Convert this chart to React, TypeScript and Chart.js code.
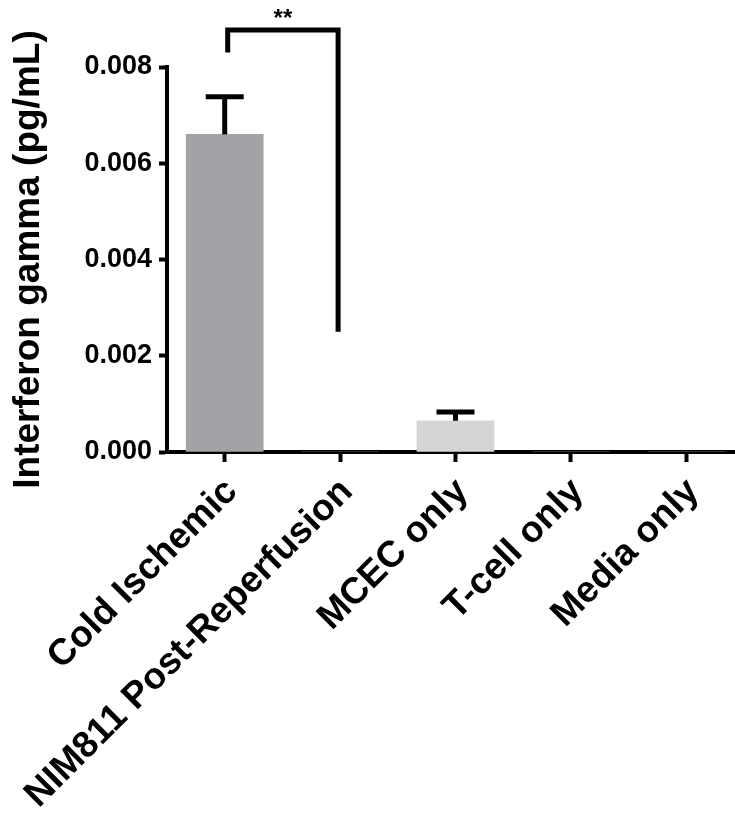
import React, { useEffect, useRef } from "react";
import { Chart, registerables } from "chart.js";

Chart.register(...registerables);

const categories = [
  "Cold Ischemic",
  "NIM811 Post-Reperfusion",
  "MCEC only",
  "T-cell only",
  "Media only",
];
const means = [0.0066, 0, 0.00065, 0, 0];
const errorsUp = [0.00078, 0, 0.00018, 0, 0];
const barColors = ["#a2a2a7", "#a2a2a7", "#d5d5d5", "#d5d5d5", "#d5d5d5"];
const yMin = 0;
const yMax = 0.008;
const yStep = 0.002;
const yTitle = "Interferon gamma (pg/mL)";
// significance bracket between category 0 and 1
const bracketFrom = 0;
const bracketTo = 1;
const bracketTop = 0.00877;
const bracketLeftEnd = 0.0083;
const bracketRightEnd = 0.0025;
const bracketLabel = "**";

const FONT = "'Liberation Sans', Arial, Helvetica, sans-serif";

const annotationPlugin = {
  id: "errAndBracket",
  afterDatasetsDraw(chart: any) {
    const ctx = chart.ctx;
    const x = chart.scales.x;
    const y = chart.scales.y;
    const meta = chart.getDatasetMeta(0);
    ctx.save();
    ctx.strokeStyle = "#000";
    ctx.lineWidth = 5;
    ctx.lineCap = "butt";
    means.forEach((m, i) => {
      const e = errorsUp[i];
      if (!e) return;
      const bar = meta.data[i];
      const cx = bar.x;
      const y0 = y.getPixelForValue(m);
      const y1 = y.getPixelForValue(m + e);
      ctx.beginPath();
      ctx.moveTo(cx, y0);
      ctx.lineTo(cx, y1);
      ctx.stroke();
      ctx.beginPath();
      ctx.moveTo(cx - 19, y1);
      ctx.lineTo(cx + 19, y1);
      ctx.stroke();
    });
    // bracket
    const xa = x.getPixelForValue(bracketFrom) + 3;
    const xb = x.getPixelForValue(bracketTo) - 2;
    const yt = y.getPixelForValue(bracketTop);
    ctx.beginPath();
    ctx.moveTo(xa, y.getPixelForValue(bracketLeftEnd));
    ctx.lineTo(xa, yt);
    ctx.lineTo(xb, yt);
    ctx.lineTo(xb, y.getPixelForValue(bracketRightEnd));
    ctx.lineJoin = "miter";
    ctx.stroke();
    ctx.fillStyle = "#000";
    ctx.font = `bold 24px ${FONT}`;
    ctx.textAlign = "center";
    ctx.textBaseline = "middle";
    ctx.fillText(bracketLabel, (xa + xb) / 2, yt - 11);
    ctx.restore();
  },
};

export default function App() {
  const ref = useRef<HTMLCanvasElement>(null);
  useEffect(() => {
    const chart = new Chart(ref.current as HTMLCanvasElement, {
      type: "bar",
      data: {
        labels: categories,
        datasets: [
          {
            data: means,
            backgroundColor: barColors,
            borderWidth: 0,
            barThickness: 77,
          },
        ],
      },
      options: {
        animation: false,
        responsive: false,
        devicePixelRatio: 1,
        layout: { padding: { top: 67, right: 6, left: 0, bottom: 0 } },
        plugins: { legend: { display: false }, tooltip: { enabled: false } },
        scales: {
          x: {
            grid: {
              offset: false,
              drawOnChartArea: false,
              tickLength: 10,
              tickWidth: 4,
              color: "#000",
            },
            border: { color: "#000", width: 4 },
            ticks: {
              autoSkip: false,
              maxRotation: 45,
              minRotation: 45,
              padding: 8,
              labelOffset: 7,
              color: "#000",
              font: { family: FONT, size: 37, weight: "bold" },
            },
            afterFit: (s: any) => {
              s.height = 365;
            },
          },
          y: {
            min: yMin,
            max: yMax,
            ticks: {
              stepSize: yStep,
              padding: 7,
              color: "#000",
              font: { family: FONT, size: 27, weight: "bold" },
              callback: (v: any) => Number(v).toFixed(3),
            },
            grid: {
              drawOnChartArea: false,
              tickLength: 8,
              tickWidth: 4,
              color: "#000",
            },
            border: { color: "#000", width: 4 },
            title: {
              display: true,
              text: yTitle,
              color: "#000",
              font: { family: FONT, size: 37, weight: "bold" },
              padding: { top: 7, bottom: 0 },
            },
            afterFit: (s: any) => {
              s.width = 167;
            },
          },
        },
      },
      plugins: [annotationPlugin],
    } as any);
    return () => chart.destroy();
  }, []);
  return (
    <div style={{ position: "absolute", left: 0, top: 0, width: 735, height: 817, overflow: "hidden", background: "#fff" }}>
      <canvas ref={ref} width={750} height={817} style={{ display: "block" }} />
    </div>
  );
}
